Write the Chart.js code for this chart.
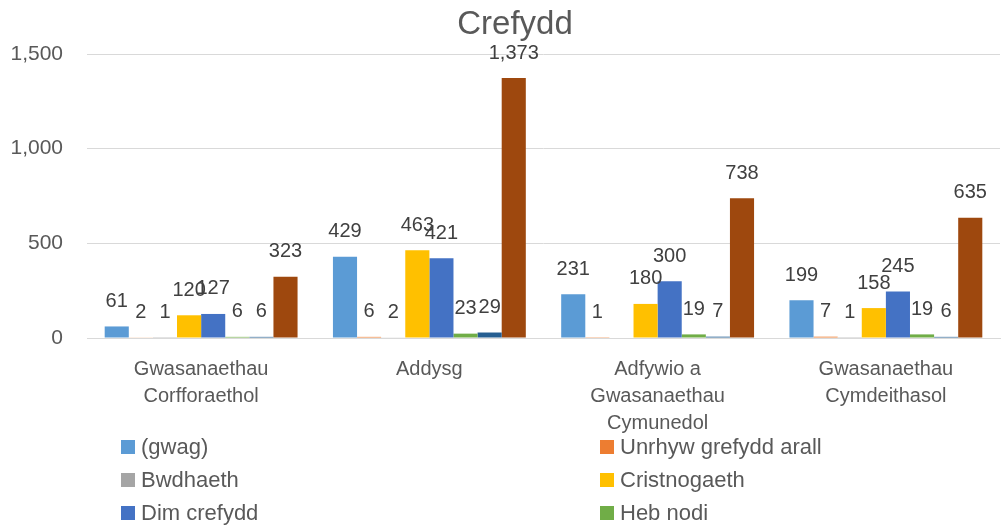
<!DOCTYPE html>
<html><head><meta charset="utf-8">
<script src="https://cdn.jsdelivr.net/npm/chart.js@4"></script>
<style>html,body{margin:0;padding:0;background:#fff;overflow:hidden}#wrap{width:1001px;height:529px;position:relative}</style>
</head><body><div id="wrap"><canvas id="c" width="1001" height="529"></canvas></div>
<script>
const categories = [["Gwasanaethau","Corfforaethol"],"Addysg",["Adfywio a","Gwasanaethau","Cymunedol"],["Gwasanaethau","Cymdeithasol"]];
const seriesNames = ["(gwag)","Unrhyw grefydd arall","Bwdhaeth","Cristnogaeth","Dim crefydd","Heb nodi","Arall","Dim ateb"];
const gwag = [61,429,231,199];
const unrhyw = [2,6,1,7];
const bwdhaeth = [1,2,null,1];
const cristnogaeth = [120,463,180,158];
const dimCrefydd = [127,421,300,245];
const hebNodi = [6,23,19,19];
const series7 = [6,29,7,6];
const series8 = [323,1373,738,635];
const yTicks = [0,500,1000,1500];
const colors = ["#5B9BD5","#ED7D31","#A5A5A5","#FFC000","#4472C4","#70AD47","#255E91","#9E480E"];
const values = [gwag,unrhyw,bwdhaeth,cristnogaeth,dimCrefydd,hebNodi,series7,series8];
const legendCount = 6;

const FONT = "'Liberation Sans', Arial, sans-serif";
const fmt = v => v.toLocaleString('en-US');

const datasets = values.map((d,i)=>({label:seriesNames[i],data:d,backgroundColor:colors[i],borderWidth:0,barPercentage:1,categoryPercentage:0.845}));

const labelPlugin = {
  id:'valueLabels',
  afterDatasetsDraw(chart){
    const ctx = chart.ctx;
    ctx.save();
    ctx.font = "20px " + FONT;
    ctx.fillStyle = "#404040";
    ctx.textAlign = "center";
    ctx.textBaseline = "middle";
    chart.data.datasets.forEach((ds,i)=>{
      const meta = chart.getDatasetMeta(i);
      meta.data.forEach((el,j)=>{
        const v = ds.data[j];
        if (v === null || v === undefined) return;
        ctx.fillText(fmt(v), el.x, el.y - 25);
      });
    });
    ctx.restore();
  }
};

const titlePlugin = {
  id:'customTitle',
  afterDraw(chart){
    const ctx = chart.ctx;
    ctx.save();
    ctx.font = "33px " + FONT;
    ctx.fillStyle = "#595959";
    ctx.textAlign = "center";
    ctx.textBaseline = "middle";
    ctx.fillText("Crefydd", 515, 25);
    ctx.restore();
  }
};

const legendPlugin = {
  id:'customLegend',
  afterDraw(chart){
    const ctx = chart.ctx;
    ctx.save();
    ctx.font = "22px " + FONT;
    ctx.textBaseline = "middle";
    ctx.textAlign = "left";
    const colX = [121, 600];
    const rowY = [447, 480, 513];
    for (let i=0;i<legendCount;i++){
      const x = colX[i%2], y = rowY[Math.floor(i/2)];
      ctx.fillStyle = colors[i];
      ctx.fillRect(x, y-7, 14, 14);
      ctx.fillStyle = "#595959";
      ctx.fillText(chart.data.datasets[i].label, x+20, y+1);
    }
    ctx.restore();
  }
};

new Chart(document.getElementById('c'), {
  type:'bar',
  data:{labels:categories, datasets},
  options:{
    responsive:false,
    animation:false,
    layout:{padding:{top:54,right:1,left:0,bottom:0}},
    plugins:{legend:{display:false},title:{display:false},tooltip:{enabled:false}},
    scales:{
      x:{
        grid:{display:false,drawTicks:false},
        border:{display:true,color:"#d9d9d9"},
        ticks:{color:"#595959",font:{family:FONT,size:20,lineHeight:1.35},padding:18,maxRotation:0,autoSkip:false},
        afterFit(s){s.height = 191;}
      },
      y:{
        min:0,max:1500,
        afterBuildTicks(s){s.ticks = yTicks.map(v=>({value:v}));},
        grid:{color:"#d9d9d9",lineWidth:1,drawTicks:false},
        border:{display:false},
        ticks:{color:"#595959",font:{family:FONT,size:21},padding:24,callback:v=>fmt(v)},
        afterFit(s){s.width = 87;}
      }
    }
  },
  plugins:[labelPlugin,titlePlugin,legendPlugin]
});
</script></body></html>
